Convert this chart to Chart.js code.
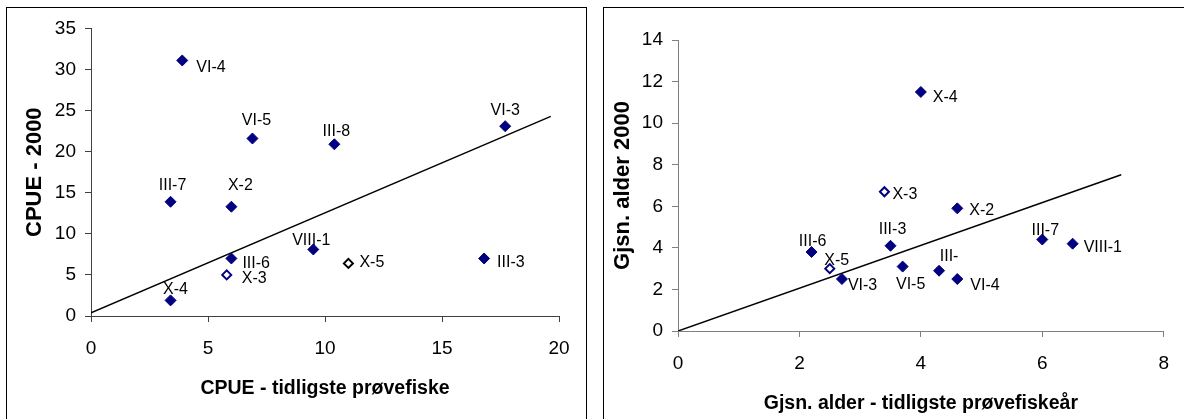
<!DOCTYPE html>
<html><head><meta charset="utf-8">
<script src="https://cdn.jsdelivr.net/npm/chart.js@4.4.0/dist/chart.umd.min.js"></script>
<style>
html,body{margin:0;padding:0;background:#fff;width:1184px;height:419px;overflow:hidden;position:relative;font-family:"Liberation Sans",Arial,sans-serif}
.frame{position:absolute;border:1px solid #000;box-sizing:border-box;}
.box{position:absolute}
</style></head><body>
<div class="frame" style="left:6px;top:7px;width:581px;height:430px"></div>
<div class="frame" style="left:603px;top:7px;width:600px;height:430px"></div>
<div class="box" style="left:7px;top:8px;width:579px;height:411px"><canvas id="c1"></canvas></div>
<div class="box" style="left:604px;top:8px;width:580px;height:411px"><canvas id="c2"></canvas></div>
<script>
// ---- data: left chart (CPUE) ----
const cpueLabels = ["VI-4","VI-5","III-8","VI-3","III-7","X-2","VIII-1","III-6","X-3","X-5","III-3","X-4"];
const cpueEarly  = [3.9, 6.9, 10.4, 17.7, 3.4, 6.0, 9.5, 6.0, 5.8, 11.0, 16.8, 3.4];
const cpue2000   = [31.1, 21.6, 20.9, 23.1, 13.9, 13.3, 8.1, 7.0, 5.0, 6.4, 7.0, 1.9];
const cpueTrendX = [0, 19.65];
const cpueTrendY = [0.4, 24.3];
const cpueXTicks = [0, 5, 10, 15, 20];
const cpueYTicks = [0, 5, 10, 15, 20, 25, 30, 35];

// ---- data: right chart (mean age) ----
const ageLabels = ["X-4","X-3","X-2","III-3","III-6","X-5","VI-3","VI-5","III-","VI-4","III-7","VIII-1"];
const ageEarly  = [4.0, 3.4, 4.6, 3.5, 2.2, 2.5, 2.7, 3.7, 4.3, 4.6, 6.0, 6.5];
const age2000   = [11.5, 6.7, 5.9, 4.1, 3.8, 3.0, 2.5, 3.1, 2.9, 2.5, 4.4, 4.2];
const ageTrendX = [0, 7.3];
const ageTrendY = [0, 7.52];
const ageXTicks = [0, 2, 4, 6, 8];
const ageYTicks = [0, 2, 4, 6, 8, 10, 12, 14];

// ---- styles (not data) ----
const NAVY = '#000080';
const FONT = '"Liberation Sans", Arial, sans-serif';
const cpueMarker = { "X-3": {fill:'#fff', stroke:NAVY}, "X-5": {fill:'#fff', stroke:'#000'} };
const ageMarker  = { "X-3": {fill:'#fff', stroke:NAVY}, "X-5": {fill:'#fff', stroke:NAVY} };
const cpuePlace = {
  "VI-4":{a:'left',dx:14,dy:7}, "VI-5":{a:'center',dx:4,dy:-18}, "III-8":{a:'center',dx:2,dy:-13},
  "VI-3":{a:'center',dx:0,dy:-16}, "III-7":{a:'center',dx:2,dy:-16}, "X-2":{a:'center',dx:9,dy:-21},
  "VIII-1":{a:'center',dx:-2,dy:-9}, "III-6":{a:'left',dx:11,dy:5}, "X-3":{a:'left',dx:15,dy:4},
  "X-5":{a:'left',dx:11,dy:-1}, "III-3":{a:'left',dx:13,dy:4}, "X-4":{a:'center',dx:5,dy:-11}
};
const agePlace = {
  "X-4":{a:'left',dx:12,dy:6}, "X-3":{a:'left',dx:8,dy:3}, "X-2":{a:'left',dx:12,dy:2},
  "III-3":{a:'center',dx:2,dy:-16}, "III-6":{a:'center',dx:1,dy:-10}, "X-5":{a:'center',dx:7,dy:-8},
  "VI-3":{a:'left',dx:6,dy:7}, "VI-5":{a:'center',dx:8,dy:18}, "III-":{a:'center',dx:10,dy:-14},
  "VI-4":{a:'left',dx:13,dy:7}, "III-7":{a:'center',dx:3,dy:-9}, "VIII-1":{a:'left',dx:11,dy:4}
};

const labelPlugin = {
  id: 'pointLabels',
  afterDatasetsDraw(chart) {
    const o = chart.options.plugins.pointLabels;
    const meta = chart.getDatasetMeta(0);
    const ctx = chart.ctx;
    ctx.save();
    ctx.font = '16px ' + FONT;
    ctx.fillStyle = '#000';
    ctx.textBaseline = 'middle';
    o.labels.forEach((name, i) => {
      const el = meta.data[i];
      const p = o.place[name];
      ctx.textAlign = p.a;
      ctx.fillText(name, el.x + p.dx, el.y + p.dy);
    });
    ctx.restore();
  }
};

function makeChart(id, c) {
  const pts = c.xs.map((x, i) => ({x: x, y: c.ys[i]}));
  const trend = c.tx.map((x, i) => ({x: x, y: c.ty[i]}));
  const fills = c.labels.map(n => (c.marker[n] ? c.marker[n].fill : NAVY));
  const strokes = c.labels.map(n => (c.marker[n] ? c.marker[n].stroke : NAVY));
  const bws = c.labels.map(n => (c.marker[n] ? 2 : 1));
  const rads = c.labels.map(n => (c.marker[n] ? 4.5 : 5.5));
  return new Chart(document.getElementById(id), {
    type: 'scatter',
    data: { datasets: [
      { data: pts, pointStyle: 'rectRot', pointRadius: rads, pointHoverRadius: rads,
        pointBackgroundColor: fills, pointBorderColor: strokes, pointBorderWidth: bws, showLine: false },
      { type: 'line', data: trend, borderColor: '#000', borderWidth: 1.5, pointRadius: 0, fill: false, tension: 0 }
    ]},
    options: {
      responsive: true, maintainAspectRatio: false, animation: false, devicePixelRatio: 1,
      layout: { padding: c.pad },
      plugins: { legend: {display:false}, tooltip: {enabled:false},
        pointLabels: { labels: c.labels, place: c.place } },
      scales: {
        x: { type: 'linear', min: c.xTicks[0], max: c.xTicks[c.xTicks.length-1],
          afterBuildTicks: s => { s.ticks = c.xTicks.map(v => ({value: v})); },
          afterFit: s => { s.height = c.xh; },
          ticks: { font: {family: FONT, size: 19}, color: '#000', padding: 15 },
          grid: { drawOnChartArea: false, drawTicks: true, tickLength: 6, color: c.axisColor },
          border: { color: c.axisColor, width: 1 },
          title: { display: true, text: c.xTitle, color: '#000',
            font: {family: FONT, size: 19.5, weight: 'bold'}, padding: {top: 0, bottom: c.xtPad} } },
        y: { type: 'linear', min: c.yTicks[0], max: c.yTicks[c.yTicks.length-1],
          afterBuildTicks: s => { s.ticks = c.yTicks.map(v => ({value: v})); },
          afterFit: s => { s.width = c.yw; },
          ticks: { font: {family: FONT, size: 19}, color: '#000', padding: 9 },
          grid: { drawOnChartArea: false, drawTicks: true, tickLength: 6, color: c.axisColor },
          border: { color: c.axisColor, width: 1 },
          title: { display: true, text: c.yTitle, color: '#000',
            font: {family: FONT, size: 22, weight: 'bold'}, padding: {top: c.ytPad, bottom: 0} } }
      }
    },
    plugins: [labelPlugin]
  });
}

makeChart('c1', {
  labels: cpueLabels, xs: cpueEarly, ys: cpue2000, tx: cpueTrendX, ty: cpueTrendY,
  xTicks: cpueXTicks, yTicks: cpueYTicks, marker: cpueMarker, place: cpuePlace,
  xTitle: 'CPUE - tidligste prøvefiske', yTitle: 'CPUE - 2000',
  pad: {left: 0, top: 20, right: 27, bottom: 0}, xh: 103, yw: 84, xtPad: 19, ytPad: 15,
  axisColor: '#404040'
});
makeChart('c2', {
  labels: ageLabels, xs: ageEarly, ys: age2000, tx: ageTrendX, ty: ageTrendY,
  xTicks: ageXTicks, yTicks: ageYTicks, marker: ageMarker, place: agePlace,
  xTitle: 'Gjsn. alder - tidligste prøvefiskeår', yTitle: 'Gjsn. alder 2000',
  pad: {left: 0, top: 32, right: 18, bottom: 0}, xh: 88, yw: 74, xtPad: 4, ytPad: 6,
  axisColor: '#808080'
});
</script>
</body></html>
